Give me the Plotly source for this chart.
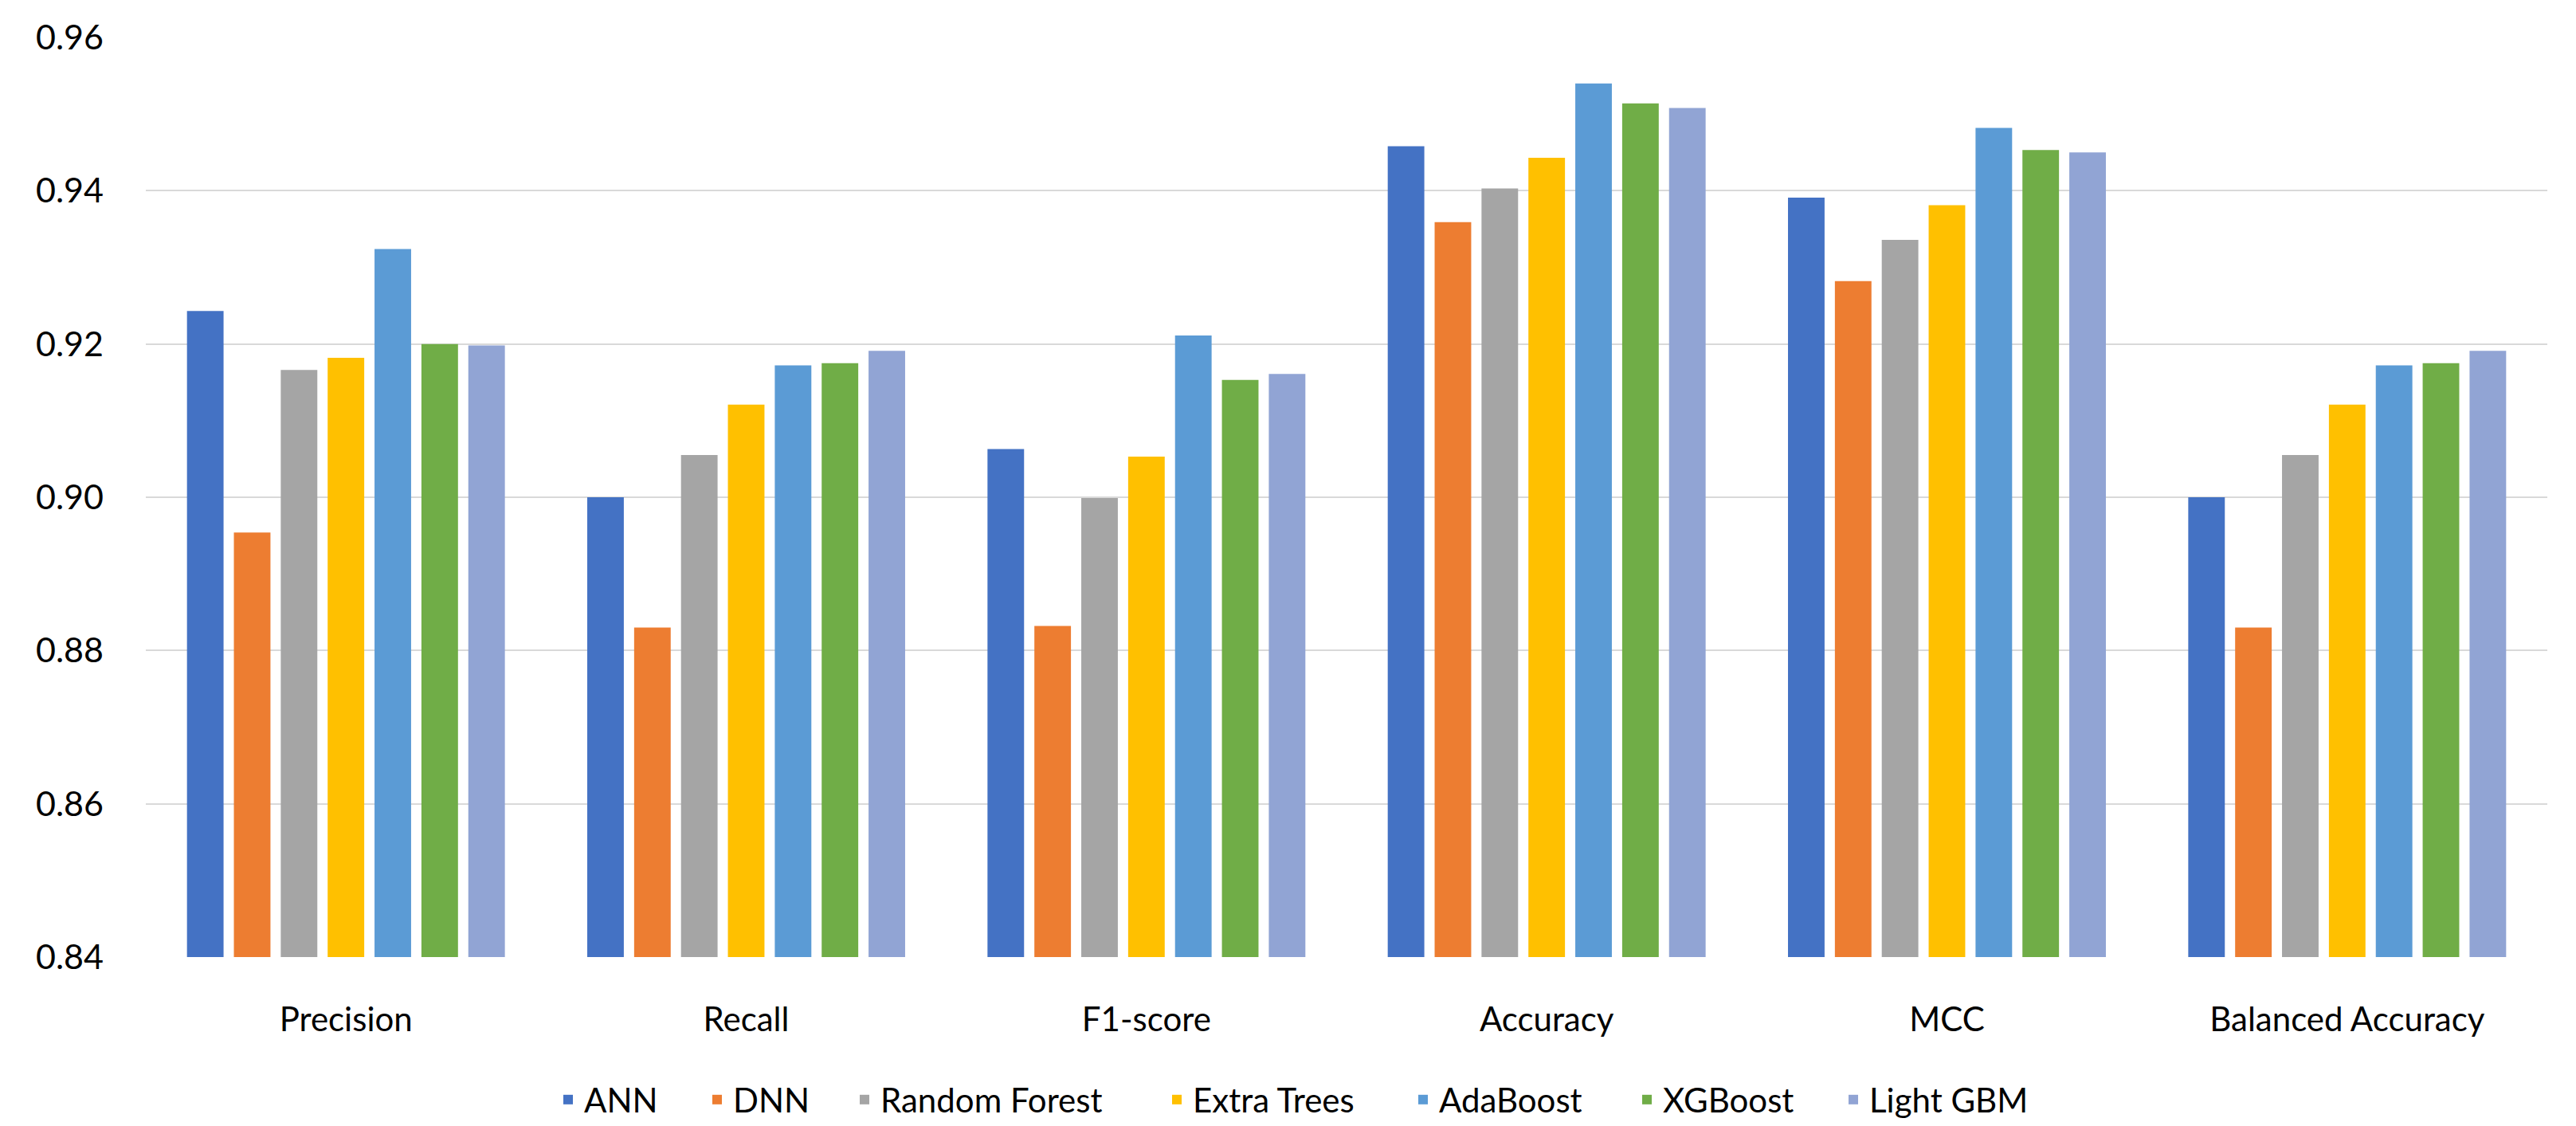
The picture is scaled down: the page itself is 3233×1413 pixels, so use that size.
import plotly.graph_objects as go

categories = ["Precision", "Recall", "F1-score", "Accuracy", "MCC", "Balanced Accuracy"]
models = ["ANN", "DNN", "Random Forest", "Extra Trees", "AdaBoost", "XGBoost", "Light GBM"]

ann = [0.9243, 0.9000, 0.9063, 0.9458, 0.9391, 0.9000]
dnn = [0.8954, 0.8830, 0.8832, 0.9359, 0.9282, 0.8830]
random_forest = [0.9166, 0.9055, 0.8999, 0.9403, 0.9336, 0.9055]
extra_trees = [0.9182, 0.9121, 0.9053, 0.9443, 0.9381, 0.9121]
adaboost = [0.9324, 0.9172, 0.9211, 0.9540, 0.9482, 0.9172]
xgboost = [0.9200, 0.9175, 0.9153, 0.9514, 0.9453, 0.9175]
light_gbm = [0.9198, 0.9191, 0.9161, 0.9508, 0.9450, 0.9191]

series = [ann, dnn, random_forest, extra_trees, adaboost, xgboost, light_gbm]
colors = ["#4472C4", "#ED7D31", "#A5A5A5", "#FFC000", "#5B9BD5", "#70AD47", "#91A4D4"]
# per-entry legend widths (px) to reproduce the reference legend spacing
legend_widths = [142, 140, 347, 264, 236, 214, 205]

y_ticks = [0.84, 0.86, 0.88, 0.90, 0.92, 0.94, 0.96]
y_tick_text = ["0.84", "0.86", "0.88", "0.90", "0.92", "0.94", "0.96"]

FONT = "Lato, 'Open Sans', sans-serif"

fig = go.Figure()
for name, vals, col, lw in zip(models, series, colors, legend_widths):
    fig.add_trace(go.Bar(
        name=name, x=categories, y=vals,
        marker=dict(color=col, line=dict(width=0)),
        legendwidth=lw,
    ))

fig.update_layout(
    width=3233, height=1413,
    margin=dict(l=175, r=44, t=39, b=220),
    paper_bgcolor="white", plot_bgcolor="white",
    barmode="group", bargap=0.18, bargroupgap=0.22,
    font=dict(family=FONT, size=42, color="#000000"),
    legend=dict(
        orientation="h", xref="container", yref="container",
        x=0.5, xanchor="center", y=0.029, yanchor="middle",
        font=dict(family=FONT, size=42, color="#000000"),
        itemwidth=30, tracegroupgap=0,
    ),
    showlegend=True,
)
fig.update_xaxes(
    showgrid=False, showline=False, zeroline=False,
    ticks="", ticklabelstandoff=50,
    tickfont=dict(family=FONT, size=42, color="#000000"),
)
fig.update_yaxes(
    range=[0.84, 0.96], tickvals=y_ticks, ticktext=y_tick_text,
    showgrid=True, gridcolor="#D9D9D9", gridwidth=2,
    zeroline=False, showline=False, ticks="", ticklabelstandoff=52,
    tickfont=dict(family=FONT, size=43, color="#000000"),
)

fig.write_html("out.html")
